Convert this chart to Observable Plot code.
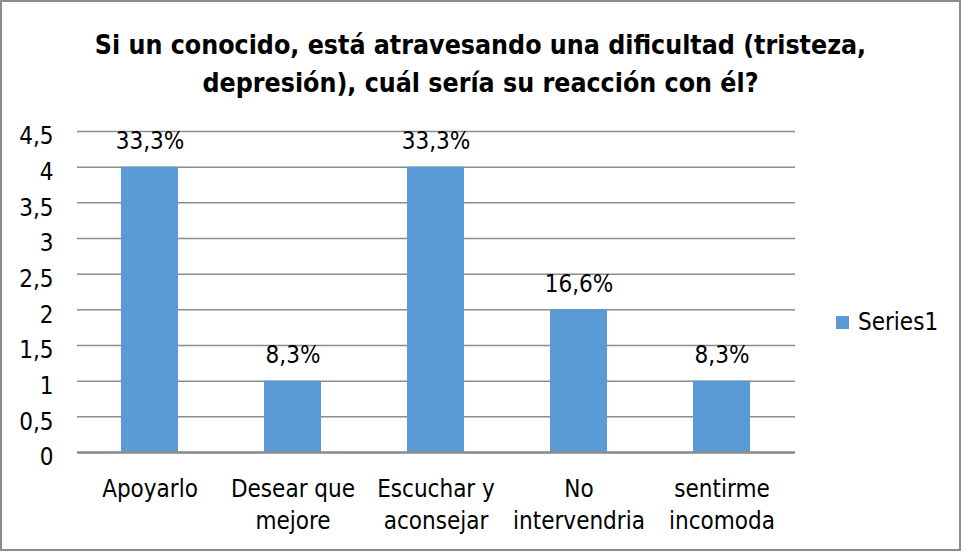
<!DOCTYPE html>
<html>
<head>
<meta charset="utf-8">
<script src="https://cdn.jsdelivr.net/npm/d3@7"></script>
<script src="https://cdn.jsdelivr.net/npm/@observablehq/plot@0.6"></script>
<style>
  body { margin: 0; background: #fff; }
  #wrap { position: relative; width: 961px; height: 552px; overflow: hidden; font-family: "Liberation Sans Narrow", "DejaVu Sans Condensed", "Liberation Sans", sans-serif; }
  #border { position: absolute; left: 0; top: 0; width: 957px; height: 547px; border: 2px solid #8c8c8c; box-sizing: content-box; pointer-events: none; }
  #title { position: absolute; left: 0; top: 26px; width: 961px; text-align: center; font-weight: bold; font-size: 26.5px; line-height: 38px; color: #000; }
  #chart { position: absolute; left: 0; top: 0; }
  #legend { position: absolute; left: 836px; top: 308px; font-size: 24px; color: #000; display: flex; align-items: center; }
  #legend .sw { width: 13px; height: 13px; background: #5B9BD5; margin-right: 9px; }
</style>
</head>
<body>
<div id="wrap">
  <div id="chart"></div>
  <div id="title">Si un conocido, está atravesando una dificultad (tristeza,<br>depresión), cuál sería su reacción con él?</div>
  <div id="legend"><div class="sw"></div><span>Series1</span></div>
  <div id="border"></div>
</div>
<script>
const categories = ["Apoyarlo", "Desear que\nmejore", "Escuchar y\naconsejar", "No\nintervendria", "sentirme\nincomoda"];
const values = [4, 1, 4, 2, 1];
const labels = ["33,3%", "8,3%", "33,3%", "16,6%", "8,3%"];
const yTicks = [0, 0.5, 1, 1.5, 2, 2.5, 3, 3.5, 4, 4.5];

const data = categories.map((c, i) => ({category: c, value: values[i], label: labels[i]}));
const fontFamily = '"Liberation Sans Narrow", "DejaVu Sans Condensed", "Liberation Sans", sans-serif';

const chart = Plot.plot({
  width: 961,
  height: 552,
  marginLeft: 77,
  marginRight: 166,
  marginTop: 131,
  marginBottom: 100,
  style: {fontFamily, fontSize: "24px", color: "#000", background: "transparent"},
  x: {domain: categories, paddingInner: 0.6, paddingOuter: 0.3, label: null},
  y: {domain: [0, 4.5], label: null},
  marks: [
    Plot.gridY(yTicks, {stroke: "#8c8c8c", strokeOpacity: 1, strokeWidth: 1.5}),
    Plot.ruleX([0], {frameAnchor: "left", stroke: "#8c8c8c", strokeWidth: 1.5}),
    Plot.barY(data, {x: "category", y: "value", fill: "#5B9BD5"}),
    Plot.ruleY([0], {stroke: "#8c8c8c", strokeWidth: 2.5}),
    Plot.axisY({ticks: yTicks, tickSize: 0, tickPadding: 24, tickFormat: d => String(d).replace(".", ","), fontSize: 24, fill: "#000", dy: 5}),
    Plot.axisX({tickSize: 0, tickPadding: 21, fontSize: 24, fill: "#000", lineHeight: 1.35}),
    Plot.text(data, {x: "category", y: "value", text: "label", dy: -26, fontSize: 24, fill: "#000"})
  ]
});
document.getElementById("chart").appendChild(chart);
</script>
</body>
</html>
